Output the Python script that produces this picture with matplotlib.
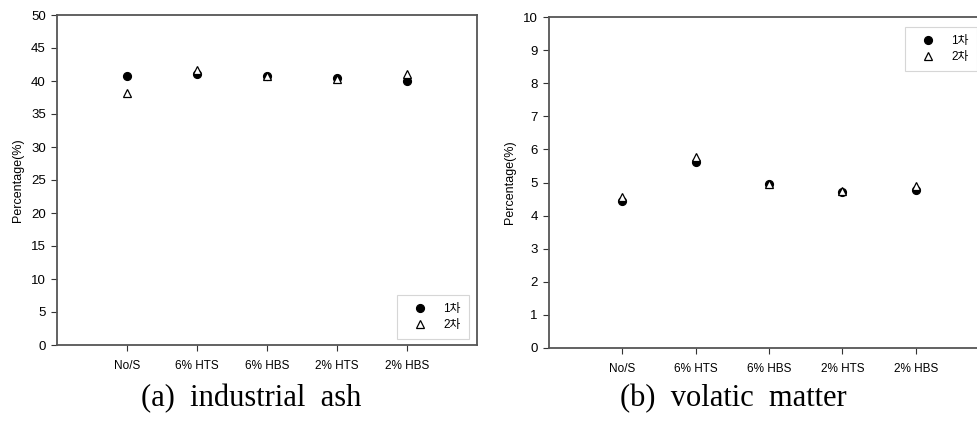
"""
Industrial ash / volatile matter percentages (1차, 2차)
"""
import matplotlib.pyplot as plt

plt.rcParams['font.family'] = ['Liberation Sans', 'Noto Sans CJK KR', 'DejaVu Sans']

categories = ['No/S', '6% HTS', '6% HBS', '2% HTS', '2% HBS']

ash_1st = [40.8, 41.0, 40.7, 40.5, 40.0]
ash_2nd = [38.2, 41.7, 40.7, 40.3, 41.0]

volatile_1st = [4.44, 5.63, 4.94, 4.72, 4.78]
volatile_2nd = [4.57, 5.76, 4.95, 4.73, 4.90]

legend_labels = ['1차', '2차']
captions = ['(a)  industrial  ash', '(b)  volatic  matter']

W, H = 978, 428


def pixel_axes(fig, left, top, right, bottom):
    return fig.add_axes([left / W, 1 - bottom / H, (right - left) / W, (bottom - top) / H])


def draw_panel(ax, first, second, ymax, ystep, legend_box):
    x = range(1, len(categories) + 1)
    ax.plot(x, first, 'o', color='black', markersize=5.6, label=legend_labels[0],
            linestyle='none')
    ax.plot(x, second, '^', markerfacecolor='white', markeredgecolor='black',
            markersize=5.6, markeredgewidth=0.9, label=legend_labels[1], linestyle='none')
    ax.set_xlim(0, 6)
    ax.set_ylim(0, ymax)
    ax.set_xticks(list(x))
    ax.set_xticklabels(categories, fontsize=8.5)
    ax.set_yticks([i * ystep for i in range(int(ymax / ystep) + 1)])
    ax.tick_params(axis='y', labelsize=9.5, length=4, width=0.8, color='#333333', pad=4)
    ax.tick_params(axis='x', length=4, width=0.8, color='#333333', pad=7)
    for side in ['left', 'bottom', 'top', 'right']:
        ax.spines[side].set_color('#555555')
        ax.spines[side].set_linewidth(1.3)
    ax.set_ylabel('Percentage(%)', fontsize=9, labelpad=5)
    loc, anchor = legend_box
    leg = ax.legend(loc=loc, bbox_to_anchor=(anchor[0] / W, 1 - anchor[1] / H),
                    bbox_transform=fig.transFigure, fontsize=8.5, frameon=True,
                    fancybox=False, edgecolor='#cccccc', handletextpad=0.7,
                    borderpad=0.7, borderaxespad=0, handlelength=2.5,
                    labelspacing=0.3, markerscale=1.0)
    leg.get_frame().set_linewidth(0.8)


fig = plt.figure(figsize=(W / 100, H / 100), dpi=100)

ax1 = pixel_axes(fig, 57, 15, 477, 345)
draw_panel(ax1, ash_1st, ash_2nd, 50, 5, ('lower right', (469, 339)))

ax2 = pixel_axes(fig, 549, 17, 989, 348)
draw_panel(ax2, volatile_1st, volatile_2nd, 10, 1, ('upper left', (905, 27)))

fig.text(251 / W, 1 - 399 / H, captions[0], family='Liberation Serif', fontsize=22,
         ha='center', va='center')
fig.text(733 / W, 1 - 399 / H, captions[1], family='Liberation Serif', fontsize=22,
         ha='center', va='center')

fig.savefig('out.png', dpi=100)
